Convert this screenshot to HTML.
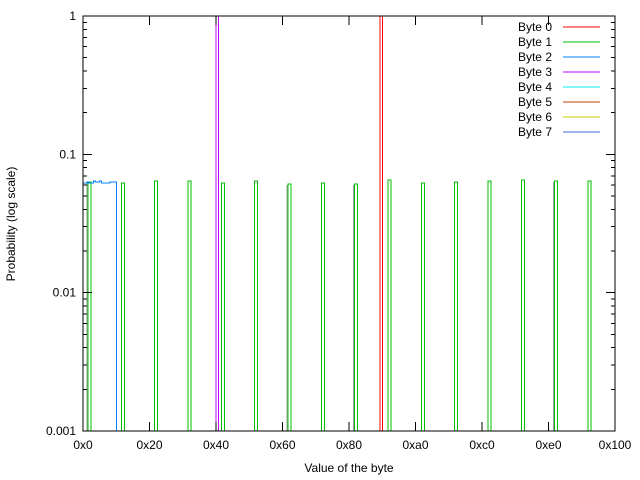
<!DOCTYPE html>
<html><head><meta charset="utf-8"><style>
html,body{margin:0;padding:0;background:#fff;}
svg{display:block;font-family:"Liberation Sans",sans-serif;font-size:12px;}
svg line,svg path,svg rect{shape-rendering:crispEdges;}
</style></head><body>
<svg id="s" width="640" height="480" xmlns="http://www.w3.org/2000/svg"></svg>
<script>
var L=83,R=615,T=16,B=431;
function X(v){return L+v*(R-L)/256;}
function Y(p){return B-(Math.log10(p)+3)*(B-T)/3;}
var o='<rect width="640" height="480" fill="#fff"/>';
var hs=[0.063,0.062,0.064,0.064,0.062,0.064,0.061,0.062,0.061,0.065,0.062,0.063,0.064,0.065,0.064,0.064];
for(var i=0;i<16;i++){var x1=88+i*33.33,x2=x1+3;var y=Y(hs[i]);
o+='<path d="M'+x1+' '+B+'V'+y+'H'+x2+'V'+B+'" fill="none" stroke="#00c000" stroke-width="1"/>';
if(i==0||i==6||i==8||i==14)o+='<line x1="'+(x1-1)+'" y1="'+B+'" x2="'+(x1-1)+'" y2="'+(y+1)+'" stroke="#a0a0a0"/>';}
var bv=[0.062,0.062,0.063,0.062,0.062,0.064,0.063,0.063,0.064,0.062,0.062,0.062,0.062,0.063,0.063,0.063];
var d='M'+L+' '+Y(bv[0]);
for(var i=0;i<16;i++){d+='H'+X(i)+'V'+Y(bv[i])+'H'+X(i+1);}
d+='V'+B;
o+='<path d="'+d+'" fill="none" stroke="#0080ff" stroke-width="1"/>';
o+='<path d="M216 '+B+'V'+T+'M218.5 '+B+'V'+T+'" stroke="#c000ff" stroke-width="1.2"/>';
o+='<path d="M380 '+B+'V'+T+'M382.5 '+B+'V'+T+'" stroke="#ff0000" stroke-width="1.2"/>';
o+='<rect x="'+L+'" y="'+T+'" width="'+(R-L)+'" height="'+(B-T)+'" fill="none" stroke="#000" stroke-width="1"/>';
var yl=['0.001','0.01','0.1','1'];
for(var k=-3;k<=0;k++){var y=Y(Math.pow(10,k));
o+='<line x1="'+L+'" x2="'+(L+9)+'" y1="'+y+'" y2="'+y+'" stroke="#000"/><line x1="'+R+'" x2="'+(R-9)+'" y1="'+y+'" y2="'+y+'" stroke="#000"/>';
o+='<text x="76" y="'+(y+4)+'" text-anchor="end">'+yl[k+3]+'</text>';
if(k<0)for(var m=2;m<10;m++){var yy=Y(m*Math.pow(10,k));
o+='<line x1="'+L+'" x2="'+(L+4)+'" y1="'+yy+'" y2="'+yy+'" stroke="#000"/><line x1="'+R+'" x2="'+(R-4)+'" y1="'+yy+'" y2="'+yy+'" stroke="#000"/>';}}
var xl=['0x0','0x20','0x40','0x60','0x80','0xa0','0xc0','0xe0','0x100'];
for(var i=0;i<=8;i++){var x=X(i*32);
o+='<line x1="'+x+'" x2="'+x+'" y1="'+B+'" y2="'+(B-9)+'" stroke="#000"/><line x1="'+x+'" x2="'+x+'" y1="'+T+'" y2="'+(T+9)+'" stroke="#000"/>';
o+='<text x="'+x+'" y="449" text-anchor="middle">'+xl[i]+'</text>';}
o+='<text x="349" y="472" text-anchor="middle">Value of the byte</text>';
o+='<text transform="translate(15,224) rotate(-90)" text-anchor="middle">Probability (log scale)</text>';
var cols=['#ff0000','#00c000','#0080ff','#c000ff','#00eeee','#c04000','#c8c800','#4169e1'];
for(var i=0;i<8;i++){var y=27+i*15;
o+='<text x="552" y="'+(y+4)+'" text-anchor="end">Byte '+i+'</text>';
o+='<line x1="563" x2="600" y1="'+y+'" y2="'+y+'" stroke="'+cols[i]+'"/>';}
document.getElementById('s').innerHTML=o;
</script>
</body></html>
